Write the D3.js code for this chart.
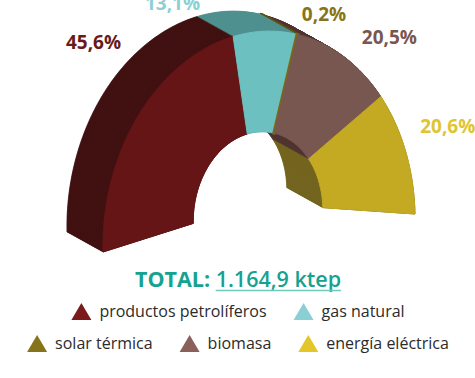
<!DOCTYPE html>
<html>
<head>
<meta charset="utf-8">
<script src="https://cdn.jsdelivr.net/npm/d3@7/dist/d3.min.js"></script>
<style>
  body { margin: 0; background: #fff; }
  text { font-family: "Open Sans", "Noto Sans", sans-serif; }
</style>
</head>
<body>
<div id="chart"></div>
<script>
// data
var categories = ['productos petrolíferos', 'gas natural', 'solar térmica', 'biomasa', 'energía eléctrica'];
var values = [45.6, 13.1, 0.2, 20.5, 20.6];
var valueLabels = ['45,6%', '13,1%', '0,2%', '20,5%', '20,6%'];
var totalLabel = '1.164,9 ktep';

// colours
var topColors = ['#661517', '#6cc1c0', '#7a6a18', '#785750', '#c4aa22'];
var sideColors = ['#411112', '#4f918f', '#5e5214', '#513532', '#73641f'];
var labelColors = ['#6b1a1a', '#8ccfd4', '#857419', '#7a5650', '#e0c430'];
var legendColors = ['#7a1a1a', '#8acfd4', '#857419', '#8a6058', '#e3c62a'];

// label placement tweaks (degrees off the mid angle, radius factor)
var labelTurn = [-4.4, 27.5, -7.2, -9.5, 0.2];
var labelRadius = [1.47, 1.30, 1.14, 1.24, 1.29];

var w = 475, h = 378;

var svg = d3.select('#chart')
    .append('svg')
    .attr('width', w)
    .attr('height', h);

// tilted half ring: centre, the two half axes and the extrusion offset
var cx = 259, cy = 233;          // outer centre
var icx = 258, icy = 215.5;      // inner centre
var ux = 156, uy = -19;          // axis towards the right end
var vx = -4.4, vy = -201;        // axis towards the top
var dx = -36, dy = -20;          // depth
var k = 0.415;                   // inner / outer radius

function project(a, r, t) {
    var th = Math.PI / 2 - a;
    var f = Math.max(0, (1 - r) / (1 - k));
    var ox = cx + (icx - cx) * f, oy = cy + (icy - cy) * f;
    return [ox + r * (Math.cos(th) * ux + Math.sin(th) * vx) + t * dx,
            oy + r * (Math.cos(th) * uy + Math.sin(th) * vy) + t * dy];
}

function arcPts(a0, a1, r, t) {
    var n = Math.max(2, Math.ceil(Math.abs(a1 - a0) * 60));
    return d3.range(n + 1).map(function(i) {
        return project(a0 + (a1 - a0) * i / n, r, t);
    });
}

var line = d3.line();
function slicePath(d, t) {
    return line(arcPts(d.startAngle, d.endAngle, 1, t)
        .concat(arcPts(d.endAngle, d.startAngle, k, t))) + 'Z';
}
// very thin slices get a wider outline so they stay visible
function edge(d, base) {
    return (d.endAngle - d.startAngle) < 0.02 ? base + 1.8 : base;
}

var pie = d3.pie()
    .sort(null)
    .startAngle(-Math.PI / 2)
    .endAngle(Math.PI / 2);
var arcs = pie(values);

// extrusion: stack layers from the back to the front
var layers = d3.range(60, -1, -1).map(function(i) { return i / 60; });
var gSide = svg.append('g');
layers.forEach(function(t) {
    gSide.selectAll(null)
        .data(arcs)
        .enter()
        .append('path')
        .attr('d', function(d) { return slicePath(d, t); })
        .attr('fill', function(d, i) { return sideColors[i]; })
        .attr('stroke', function(d, i) { return sideColors[i]; })
        .attr('stroke-width', function(d) { return edge(d, 0.8); });
});

// top faces
svg.append('g')
    .selectAll('path')
    .data(arcs)
    .enter()
    .append('path')
    .attr('d', function(d) { return slicePath(d, 0); })
    .attr('fill', function(d, i) { return topColors[i]; })
    .attr('stroke', function(d, i) { return topColors[i]; })
    .attr('stroke-width', function(d) { return edge(d, 1); });

// percentage labels
svg.append('g')
    .selectAll('text')
    .data(arcs)
    .enter()
    .append('text')
    .attr('transform', function(d, i) {
        var a = (d.startAngle + d.endAngle) / 2 - labelTurn[i] * Math.PI / 180;
        var p = project(a, labelRadius[i], 0);
        return 'translate(' + p[0] + ',' + p[1] + ')';
    })
    .attr('text-anchor', 'middle')
    .attr('dy', '0.36em')
    .attr('font-size', 19)
    .attr('font-weight', 700)
    .attr('fill', function(d, i) { return labelColors[i]; })
    .text(function(d, i) { return valueLabels[i]; });

// total
var tot = svg.append('text')
    .attr('x', 238)
    .attr('y', 287)
    .attr('text-anchor', 'middle')
    .attr('font-size', 21.5)
    .attr('font-weight', 700)
    .attr('fill', '#16a291');
tot.append('tspan').text('TOTAL: ');
var totNum = tot.append('tspan').attr('font-weight', 600).text(totalLabel);
var bb = totNum.node().getBBox();
svg.append('line')
    .attr('x1', bb.x).attr('x2', bb.x + bb.width)
    .attr('y1', 290.5).attr('y2', 290.5)
    .attr('stroke', '#6fcabd')
    .attr('stroke-width', 1.5);

// legend: rows centred, items laid out one after another
var legendRows = [[0, 1], [2, 3, 4]];
var rowBase = [317, 349];
var triW = 20, triH = 17, triGap = 8, itemGap = 27;
var gLeg = svg.append('g');
legendRows.forEach(function(row, ri) {
    var items = row.map(function(i) {
        var g = gLeg.append('g');
        g.append('path')
            .attr('d', 'M0,' + triH + 'L' + (triW / 2) + ',0L' + triW + ',' + triH + 'Z')
            .attr('transform', 'translate(0,' + (-triH + 3) + ')')
            .attr('fill', legendColors[i]);
        var t = g.append('text')
            .attr('x', triW + triGap)
            .attr('y', 0)
            .attr('font-size', 16)
            .attr('fill', '#2b2b2b')
            .text(categories[i]);
        return { g: g, w: triW + triGap + t.node().getComputedTextLength() };
    });
    var total = d3.sum(items, function(d) { return d.w; }) + itemGap * (items.length - 1);
    var x = 238 - total / 2;
    items.forEach(function(it) {
        it.g.attr('transform', 'translate(' + x + ',' + rowBase[ri] + ')');
        x += it.w + itemGap;
    });
});
</script>
</body>
</html>
